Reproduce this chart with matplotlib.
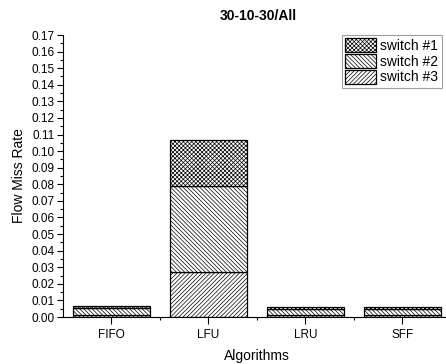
import numpy as np
import matplotlib
matplotlib.use("Agg")
import matplotlib.pyplot as plt
from matplotlib.ticker import MultipleLocator, FixedLocator

plt.rcParams["font.family"] = ["Liberation Sans", "DejaVu Sans"]
plt.rcParams["hatch.linewidth"] = 0.5
plt.rcParams["hatch.color"] = "#555555"

algorithms = ["FIFO", "LFU", "LRU", "SFF"]
switch3 = [0.0010, 0.0270, 0.0010, 0.0010]
switch2 = [0.0042, 0.0518, 0.0038, 0.0038]
switch1 = [0.0012, 0.0277, 0.0010, 0.0010]
series_labels = ["switch #1", "switch #2", "switch #3"]

fig = plt.figure(figsize=(4.46, 3.64), dpi=100)
ax = fig.add_axes([63 / 446, 1 - 317 / 364, 388 / 446, (317 - 35) / 364])

x = np.arange(1, len(algorithms) + 1)
w = 0.8
b3 = ax.bar(x, switch3, w, color="white", edgecolor="black", lw=0.9, hatch="////////")
b2 = ax.bar(x, switch2, w, bottom=switch3, color="white", edgecolor="black", lw=0.9,
            hatch="\\\\\\\\\\\\\\\\")
bot1 = np.array(switch3) + np.array(switch2)
b1 = ax.bar(x, switch1, w, bottom=bot1, color="white", edgecolor="black", lw=0.9,
            hatch="xxxxxxxx")

ax.set_xlim(0.5, 4.5)
ax.set_ylim(0, 0.17)
ax.set_xticks(x)
ax.set_xticklabels(algorithms, fontsize=8.5)
ax.xaxis.set_minor_locator(FixedLocator(x[:-1] + 0.5))
ax.yaxis.set_major_locator(MultipleLocator(0.01))
ax.yaxis.set_minor_locator(MultipleLocator(0.005))
ax.yaxis.set_major_formatter(matplotlib.ticker.FormatStrFormatter("%.2f"))
ax.tick_params(axis="y", labelsize=8.5, length=4, width=0.8, pad=2)
ax.tick_params(axis="x", length=5, width=0.8)
ax.tick_params(which="minor", length=2.5, width=0.8)
for s in ("top", "right"):
    ax.spines[s].set_visible(False)
ax.spines["left"].set_linewidth(0.8)
ax.spines["bottom"].set_linewidth(0.8)

ax.set_ylabel("Flow Miss Rate", fontsize=10, labelpad=4)
ax.set_xlabel("Algorithms", fontsize=10, labelpad=6)
fig.text(258 / 446, 1 - 16 / 364, "30-10-30/All", ha="center", va="center",
         fontsize=10, fontweight="bold")

leg = ax.legend([b1, b2, b3], series_labels, loc="upper right",
                bbox_to_anchor=(442 / 446, 1 - 35 / 364), bbox_transform=fig.transFigure,
                fontsize=10, frameon=True, fancybox=False, edgecolor="#888888",
                handlelength=2.2, handleheight=1.15, handletextpad=0.35,
                labelspacing=0.08, borderpad=0.25, borderaxespad=0)
leg.get_frame().set_linewidth(0.8)

fig.savefig("out.png", dpi=100)
